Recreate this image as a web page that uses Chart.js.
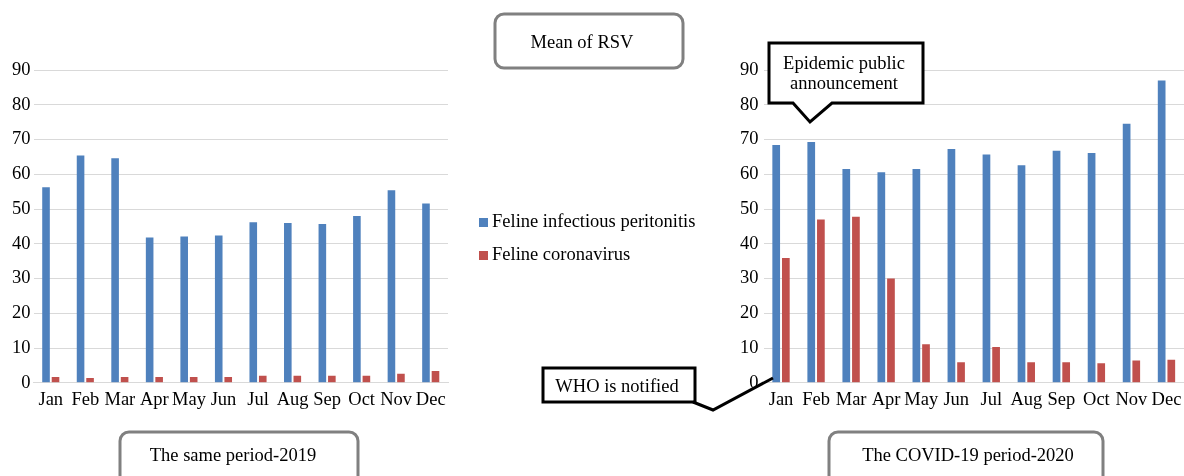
<!DOCTYPE html>
<html>
<head>
<meta charset="utf-8">
<title>Mean of RSV</title>
<script src="https://cdn.jsdelivr.net/npm/chart.js@4/dist/chart.umd.min.js"></script>
<style>
	body { margin: 0; background: #fff; }
	.wrap { position: relative; width: 1184px; height: 476px; overflow: hidden; font-family: "Liberation Serif", "Times New Roman", serif; }
	.chart-box { position: absolute; }
	#overlay { position: absolute; left: 0; top: 0; pointer-events: none; }
	#overlay text { font-family: "Liberation Serif", "Times New Roman", serif; font-size: 18.5px; fill: #000; }
</style>
</head>
<body>
<div class="wrap">
	<div class="chart-box" style="left:0;top:50px;width:460px;height:362px"><canvas id="chart2019"></canvas></div>
	<div class="chart-box" style="left:730px;top:50px;width:454px;height:362px"><canvas id="chart2020"></canvas></div>

	<svg id="overlay" width="1184" height="476">
		<!-- title -->
		<rect x="495" y="14" width="188" height="54" rx="9" fill="#fff" stroke="#808080" stroke-width="3"/>
		<text x="582" y="44" text-anchor="middle" dominant-baseline="middle">Mean of RSV</text>

		<!-- legend -->
		<rect x="479" y="218" width="9" height="9" fill="#4f81bd"/>
		<text x="492" y="223" dominant-baseline="middle">Feline infectious peritonitis</text>
		<rect x="479" y="251" width="9" height="9" fill="#c0504d"/>
		<text x="492" y="256" dominant-baseline="middle">Feline coronavirus</text>

		<!-- period labels -->
		<rect x="120" y="432" width="238" height="60" rx="9" fill="#fff" stroke="#808080" stroke-width="3"/>
		<text x="233" y="457" text-anchor="middle" dominant-baseline="middle">The same period-2019</text>
		<rect x="829" y="432" width="274" height="60" rx="9" fill="#fff" stroke="#808080" stroke-width="3"/>
		<text x="968" y="457" text-anchor="middle" dominant-baseline="middle">The COVID-19 period-2020</text>

		<!-- callouts -->
		<path d="M769,43 H923 V103 H832 L810,122 L793,103 H769 Z" fill="#fff" stroke="#000" stroke-width="3" stroke-linejoin="miter"/>
		<text x="844" y="65" text-anchor="middle" dominant-baseline="middle">Epidemic public</text>
		<text x="844" y="85" text-anchor="middle" dominant-baseline="middle">announcement</text>

		<rect x="543" y="368" width="152" height="34" fill="#fff" stroke="#000" stroke-width="3"/>
		<polyline points="693,402 713,410 773,378" fill="none" stroke="#000" stroke-width="3"/>
		<text x="617" y="388" text-anchor="middle" dominant-baseline="middle">WHO is notified</text>
	</svg>
</div>

<script>
// data
const months = ['Jan', 'Feb', 'Mar', 'Apr', 'May', 'Jun', 'Jul', 'Aug', 'Sep', 'Oct', 'Nov', 'Dec'];
const seriesNames = ['Feline infectious peritonitis', 'Feline coronavirus'];
const fip2019 = [56.3, 65.4, 64.6, 41.8, 42.1, 42.4, 46.2, 46.0, 45.7, 48.0, 55.4, 51.6];
const fcov2019 = [1.7, 1.4, 1.7, 1.7, 1.7, 1.7, 2.0, 2.0, 2.0, 2.0, 2.6, 3.4];
const fip2020 = [68.4, 69.3, 61.5, 60.6, 61.5, 67.3, 65.7, 62.6, 66.8, 66.1, 74.5, 87.0];
const fcov2020 = [35.9, 47.0, 47.8, 30.0, 11.1, 5.9, 10.3, 5.9, 5.9, 5.6, 6.4, 6.6];
const yTicks = [0, 10, 20, 30, 40, 50, 60, 70, 80, 90];

const blue = '#4f81bd';
const red = '#c0504d';
const font = { family: '"Liberation Serif", "Times New Roman", serif', size: 18.5 };

function makeChart(id, fip, fcov, padLeft, padRight, tickPad) {
	return new Chart(document.getElementById(id), {
		type: 'bar',
		data: {
			labels: months,
			datasets: [
				{ label: seriesNames[0], data: fip, backgroundColor: blue },
				{ label: seriesNames[1], data: fcov, backgroundColor: red }
			]
		},
		options: {
			responsive: true,
			maintainAspectRatio: false,
			animation: false,
			categoryPercentage: 0.55,
			barPercentage: 0.8,
			layout: { padding: { left: padLeft, top: 20, right: padRight, bottom: 3 } },
			plugins: { legend: { display: false }, tooltip: { enabled: false } },
			scales: {
				x: {
					grid: { display: false },
					border: { display: true, color: '#d9d9d9' },
					ticks: { color: '#000', font: font, padding: -2, maxRotation: 0, autoSkip: false }
				},
				y: {
					min: yTicks[0],
					max: yTicks[yTicks.length - 1],
					afterBuildTicks: function (axis) { axis.ticks = yTicks.map(v => ({ value: v })); },
					grid: { color: '#d9d9d9', drawTicks: false },
					border: { display: false },
					ticks: { color: '#000', font: font, padding: tickPad }
				}
			}
		}
	});
}

makeChart('chart2019', fip2019, fcov2019, 9, 12, 3);
makeChart('chart2020', fip2020, fcov2020, 5, 0, 5);
</script>
</body>
</html>
